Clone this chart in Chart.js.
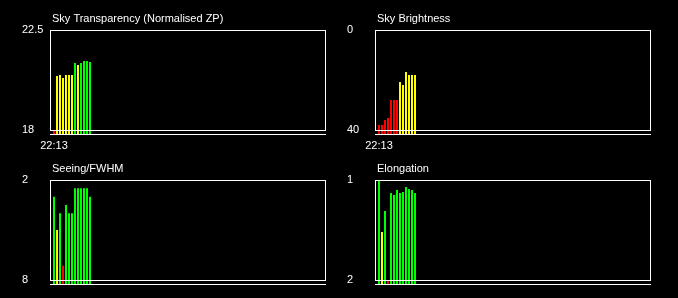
<!DOCTYPE html>
<html><head><meta charset="utf-8">
<script src="https://cdn.jsdelivr.net/npm/chart.js@4.4.1/dist/chart.umd.min.js"></script>
<style>
html,body{margin:0;padding:0;background:#000;overflow:hidden;width:678px;height:298px;}
canvas{position:absolute;}
</style></head><body>
<canvas id="c1" width="339" height="149" style="left:0;top:0"></canvas>
<canvas id="c2" width="339" height="149" style="left:339px;top:0"></canvas>
<canvas id="c3" width="339" height="149" style="left:0;top:150px"></canvas>
<canvas id="c4" width="339" height="149" style="left:339px;top:150px"></canvas>
<script>
// ---- data ----
const sampleIndex = [0, 1, 2, 3, 4, 5, 6, 7, 8, 9, 10, 11, 12];
const timeLabels = ['22:13'];

const transparency = [18.0, 20.43, 20.47, 20.34, 20.47, 20.47, 20.47, 21.02, 20.92, 21.02, 21.11, 21.11, 21.06];
const transparencyQuality = ['r','y','y','y','y','y','y','g','y','g','g','g','g'];
const transparencyTicks = [22.5, 18];

const skyBrightness = [38, 38, 36, 35.2, 28, 28, 28, 20.8, 22, 16.8, 18, 18, 18];
const skyBrightnessQuality = ['r','r','r','r','r','r','r','y','y','y','y','y','y'];
const skyBrightnessTicks = [0, 40];

const seeing = [3.0, 5.0, 4.0, 7.15, 3.5, 4.0, 4.0, 2.5, 2.5, 2.5, 2.5, 2.5, 3.0];
const seeingQuality = ['g','y','g','r','g','g','g','g','g','g','g','g','g'];
const seeingTicks = [2, 8];

const elongation = [1.0, 1.52, 1.31, 2.0, 1.13, 1.15, 1.10, 1.13, 1.12, 1.07, 1.09, 1.10, 1.13];
const elongationQuality = ['g','y','g','r','g','g','g','g','g','g','g','g','g'];
const elongationTicks = [1, 2];

// ---- styling ----
const COLORS = { g: '#00ff00', y: '#ffff00', r: '#ff0000' };
const X_START = -4 / 3;
const X_SPAN = 275 / 3;

Chart.defaults.font.family = '"Liberation Sans", Arial, sans-serif';
Chart.defaults.font.size = 11;
Chart.defaults.color = '#ffffff';

const framePlugin = {
  id: 'frame',
  afterDatasetsDraw(chart, args, opts) {
    const { ctx, chartArea: a, scales: { y } } = chart;
    const t = Math.round(y.getPixelForValue(opts.top)) + 0.5;
    const b = Math.round(y.getPixelForValue(opts.bottom)) + 0.5;
    ctx.save();
    ctx.strokeStyle = '#ffffff';
    ctx.lineWidth = 1;
    ctx.strokeRect(Math.round(a.left) + 0.5, t, Math.round(a.right - a.left), b - t);
    ctx.beginPath();
    ctx.moveTo(Math.round(a.left), Math.round(a.bottom) - 0.5);
    ctx.lineTo(Math.round(a.right) + 1, Math.round(a.bottom) - 0.5);
    ctx.stroke();
    ctx.fillStyle = '#ffffff';
    ctx.font = '11px "Liberation Sans", Arial, sans-serif';
    ctx.textAlign = 'left';
    ctx.textBaseline = 'alphabetic';
    ctx.fillText(opts.title, Math.round(a.left) + 2, Math.round(a.top) - 8);
    ctx.restore();
  }
};

function makePanel(id, title, values, quality, ticks, showTime, leftPad, rightPad) {
  const top = ticks[0], bottom = ticks[1];
  const floor = bottom + (bottom - top) * 0.05;
  const reversed = top < bottom;
  new Chart(document.getElementById(id), {
    type: 'bar',
    data: {
      datasets: [{
        data: values.map((v, i) => ({ x: sampleIndex[i], y: v })),
        backgroundColor: quality.map(q => COLORS[q]),
        barThickness: 2,
        borderWidth: 0,
        inflateAmount: 0,
        base: floor
      }]
    },
    options: {
      responsive: false,
      animation: false,
      events: [],
      layout: { padding: { left: leftPad, right: rightPad, top: 30, bottom: 0 } },
      plugins: {
        legend: { display: false },
        tooltip: { enabled: false },
        frame: { title: title, top: top, bottom: bottom }
      },
      scales: {
        x: {
          type: 'linear',
          offset: false,
          min: X_START,
          max: X_START + X_SPAN,
          afterBuildTicks: s => { s.ticks = showTime ? [{ value: sampleIndex[0] }] : []; },
          afterFit: s => { s.height = 14; },
          grid: { display: false, drawTicks: false, offset: false },
          border: { display: false },
          ticks: {
            display: showTime, color: '#ffffff', padding: 4, maxRotation: 0, autoSkip: false,
            callback: (v, i) => timeLabels[i]
          }
        },
        y: {
          type: 'linear',
          min: reversed ? top : floor,
          max: reversed ? floor : top,
          reverse: reversed,
          afterBuildTicks: s => { s.ticks = ticks.map(v => ({ value: v })); },
          afterFit: s => { s.width = 28; },
          grid: { display: false, drawTicks: false },
          border: { display: false },
          ticks: {
            color: '#ffffff', crossAlign: 'far', padding: 0, autoSkip: false,
            callback: v => String(v)
          }
        }
      }
    },
    plugins: [framePlugin]
  });
}

makePanel('c1', 'Sky Transparency (Normalised ZP)', transparency, transparencyQuality, transparencyTicks, true, 22, 14);
makePanel('c2', 'Sky Brightness', skyBrightness, skyBrightnessQuality, skyBrightnessTicks, true, 8, 28);
makePanel('c3', 'Seeing/FWHM', seeing, seeingQuality, seeingTicks, false, 22, 14);
makePanel('c4', 'Elongation', elongation, elongationQuality, elongationTicks, false, 8, 28);
</script>
</body></html>
